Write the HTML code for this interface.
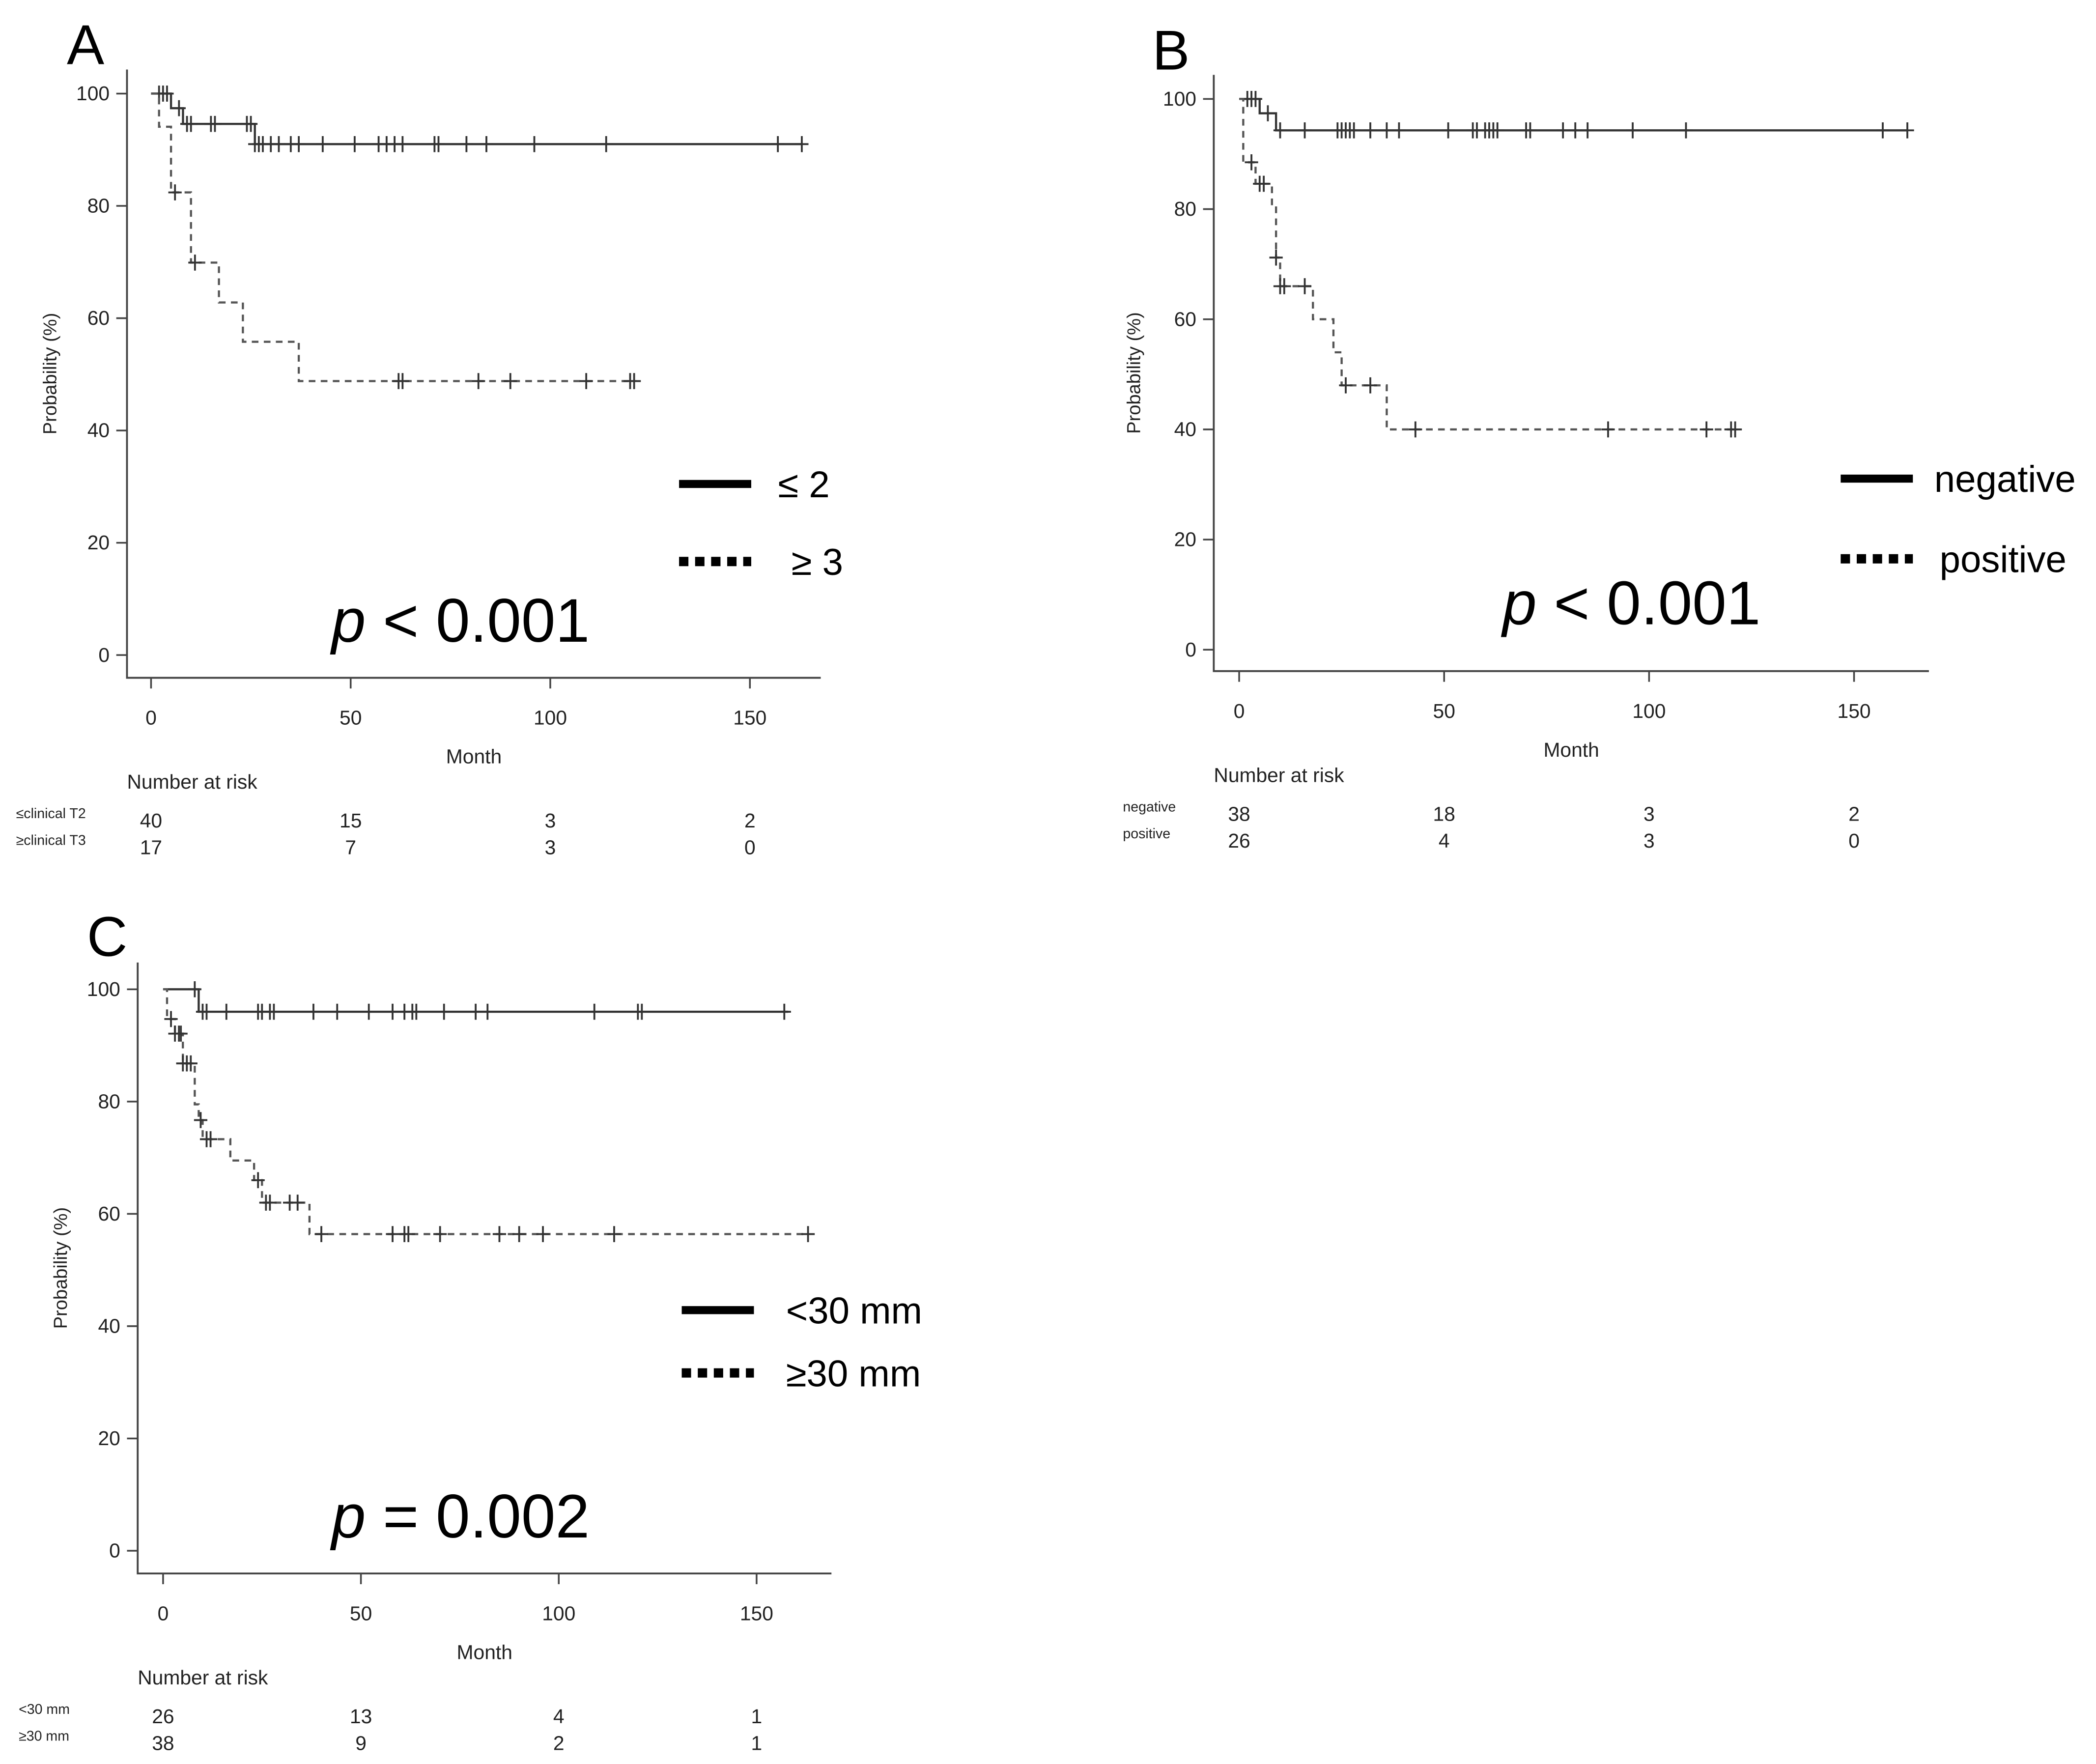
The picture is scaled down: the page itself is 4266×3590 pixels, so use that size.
<!DOCTYPE html>
<html><head><meta charset="utf-8"><style>
html,body{margin:0;padding:0;background:#fff;}
svg{display:block;font-family:"Liberation Sans",sans-serif;}
</style></head><body>
<svg id="fig" width="4266" height="3590" viewBox="0 0 1568 1319.5" xmlns="http://www.w3.org/2000/svg"></svg>
<script>
// Panel A data
const aSolidTimes=[5,8,26];
const aSolidSurv=[97.4,94.6,91.0];
const aSolidCens=[2,3,4,7,9,10,15,16,24,25,26,27,28,30,32,35,37,43,51,57,59,61,63,71,72,79,84,96,114,157,163];
const aSolidEnd=163;
const aDashTimes=[2,5,10,17,23,37];
const aDashSurv=[94.1,82.4,69.9,62.8,55.8,48.8];
const aDashCens=[6,11,62,63,82,90,109,120,121];
const aDashEnd=121;
// Panel B data
const bSolidTimes=[5,9];
const bSolidSurv=[97.4,94.3];
const bSolidCens=[2,3,4,7,10,16,24,25,26,27,28,32,36,39,51,57,58,60,61,62,63,70,71,79,82,85,96,109,157,163];
const bSolidEnd=163;
const bDashTimes=[1,4,8,9,10,18,23,25,36];
const bDashSurv=[88.5,84.6,80.7,71.2,66.0,60.0,54.0,48.0,40.0];
const bDashCens=[3,5,6,9,10,11,16,26,32,43,90,114,120,121];
const bDashEnd=121;
// Panel C data
const cSolidTimes=[9];
const cSolidSurv=[96.0];
const cSolidCens=[8,10,11,16,24,25,27,28,38,44,52,58,61,63,64,71,79,82,109,120,121,157];
const cSolidEnd=158;
const cDashTimes=[1,3,5,8,9,10,17,23,25,37];
const cDashSurv=[94.7,92.1,86.8,79.5,76.7,73.3,69.5,66.0,62.0,56.4];
const cDashCens=[2,3,4,4.5,5,6,7,9.5,11,12,24,26,27,32,34,40,58,61,62,70,85,90,96,114,163];
const cDashEnd=163;
const xTicks=[0,50,100,150];
const yTicks=[0,20,40,60,80,100];

const NS="http://www.w3.org/2000/svg";
const svg=document.getElementById('fig');
function mk(tag,attrs,parent){const e=document.createElementNS(NS,tag);for(const k in attrs)e.setAttribute(k,attrs[k]);(parent||svg).appendChild(e);return e;}
function txt(s,attrs,parent){const e=mk('text',attrs,parent);e.textContent=s;return e;}
function survAt(times,surv,t){let v=100;for(let i=0;i<times.length;i++){if(times[i]<=t)v=surv[i];}return v;}

function panel(cfg){
  const g=mk('g',{});
  
  
  const X=v=>cfg.x0+(cfg.x150-cfg.x0)*v/150;
  const Y=v=>cfg.y0+(cfg.y100-cfg.y0)*v/100;
  const lab=txt(cfg.id.toUpperCase(),{x:cfg.labX,y:cfg.labY,'font-size':42},g);
  
  
  const ax=mk('path',{d:`M${cfg.axL} ${cfg.axT} V${cfg.axB} H${cfg.axR}`,stroke:'#444','stroke-width':1.4,fill:'none'},g);
  
  
  yTicks.forEach(t=>{
    mk('line',{x1:cfg.axL-8,x2:cfg.axL,y1:Y(t),y2:Y(t),stroke:'#444','stroke-width':1.3},g);
    const l=txt(t,{x:cfg.axL-13,y:Y(t)+5,'font-size':15,'text-anchor':'end',fill:'#222'},g);
    
    
  });
  xTicks.forEach(t=>{
    mk('line',{x1:X(t),x2:X(t),y1:cfg.axB,y2:cfg.axB+8,stroke:'#444','stroke-width':1.3},g);
    const l=txt(t,{x:X(t),y:cfg.axB+35,'font-size':15,'text-anchor':'middle',fill:'#222'},g);
    
    
  });
  const xt=txt('Month',{x:(cfg.axL+cfg.axR)/2,y:cfg.axB+64,'font-size':15,'text-anchor':'middle',fill:'#222'},g);
  
  
  const yc=(cfg.axT+cfg.axB)/2;
  const yt=txt('Probability (%)',{x:cfg.yTitleX,y:yc,'font-size':14,'text-anchor':'middle',fill:'#222',transform:`rotate(-90 ${cfg.yTitleX} ${yc})`},g);
  
  
  function curve(times,surv,cens,end,dashed,name){
    let d=`M${X(0)} ${Y(100)}`;
    times.forEach((t,i)=>{d+=` H${X(t)} V${Y(surv[i])}`;});
    d+=` H${X(end)}`;
    const p=mk('path',{d,fill:'none',stroke:dashed?'#555':'#333','stroke-width':1.6,'stroke-dasharray':dashed?'5 4':'none'},g);
    
    
    cens.forEach(t=>{
      const yy=Y(survAt(times,surv,t)),xx=X(t);
      const c=mk('path',{d:`M${xx-5} ${yy} H${xx+5} M${xx} ${yy-6} V${yy+6}`,stroke:'#333','stroke-width':1.4},g);
      
      
    });
  }
  curve(cfg.sT,cfg.sS,cfg.sC,cfg.sE,false,'solid');
  curve(cfg.dT,cfg.dS,cfg.dC,cfg.dE,true,'dashed');
  const l1=mk('line',{x1:cfg.lg[0],x2:cfg.lg[0]+54,y1:cfg.lg[1],y2:cfg.lg[1],stroke:'#000','stroke-width':6},g);
  
  
  const t1=txt(cfg.leg1,{x:cfg.lg[2],y:cfg.lg[1]+10,'font-size':28},g);
  
  
  const l2=mk('line',{x1:cfg.lg[0],x2:cfg.lg[0]+54,y1:cfg.lg[3],y2:cfg.lg[3],stroke:'#000','stroke-width':7,'stroke-dasharray':'7 5'},g);
  
  
  const t2=txt(cfg.leg2,{x:cfg.lg[4],y:cfg.lg[3]+10,'font-size':28},g);
  
  
  const pv=mk('text',{x:cfg.pX,y:cfg.pY,'font-size':46},g);
  
  
  const pi=mk('tspan',{'font-style':'italic'},pv);pi.textContent='p';
  const pr=mk('tspan',{},pv);pr.textContent=cfg.pText;
  const rt=txt('Number at risk',{x:cfg.axL,y:cfg.axB+83,'font-size':15,fill:'#222'},g);
  
  
  [0,1].forEach(r=>{
    const yy=cfg.axB+110+r*20;
    const rl=txt(cfg.rows[r],{x:cfg.rowX,y:yy-5,'font-size':10.5,fill:'#222'},g);
    
    
    cfg.risk[r].forEach((n,i)=>{
      const e=txt(n,{x:X(xTicks[i]),y:yy+2,'font-size':15,'text-anchor':'middle',fill:'#222'},g);
      
      
    });
  });
}
panel({id:'a',x0:113,x150:561,y0:490,y100:70,axL:95,axR:614,axT:52,axB:507,labX:50,labY:48,yTitleX:42,
  sT:aSolidTimes,sS:aSolidSurv,sC:aSolidCens,sE:aSolidEnd,dT:aDashTimes,dS:aDashSurv,dC:aDashCens,dE:aDashEnd,
  lg:[508,362,582,420,592],leg1:'≤ 2',leg2:'≥ 3',pX:248,pY:480,pText:' < 0.001',
  rows:['≤clinical T2','≥clinical T3'],rowX:12,risk:[[40,15,3,2],[17,7,3,0]]});
panel({id:'b',x0:927,x150:1387,y0:486,y100:74,axL:908,axR:1443,axT:56,axB:502,labX:862,labY:52,yTitleX:853,
  sT:bSolidTimes,sS:bSolidSurv,sC:bSolidCens,sE:bSolidEnd,dT:bDashTimes,dS:bDashSurv,dC:bDashCens,dE:bDashEnd,
  lg:[1377,358,1447,418,1451],leg1:'negative',leg2:'positive',pX:1124,pY:467,pText:' < 0.001',
  rows:['negative','positive'],rowX:840,risk:[[38,18,3,2],[26,4,3,0]]});
panel({id:'c',x0:122,x150:566,y0:1160,y100:740,axL:103,axR:622,axT:720,axB:1177,labX:65,labY:715,yTitleX:50,
  sT:cSolidTimes,sS:cSolidSurv,sC:cSolidCens,sE:cSolidEnd,dT:cDashTimes,dS:cDashSurv,dC:cDashCens,dE:cDashEnd,
  lg:[510,980,588,1027,588],leg1:'<30 mm',leg2:'≥30 mm',pX:248,pY:1150,pText:' = 0.002',
  rows:['<30 mm','≥30 mm'],rowX:14,risk:[[26,13,4,1],[38,9,2,1]]});
</script>
</body></html>
